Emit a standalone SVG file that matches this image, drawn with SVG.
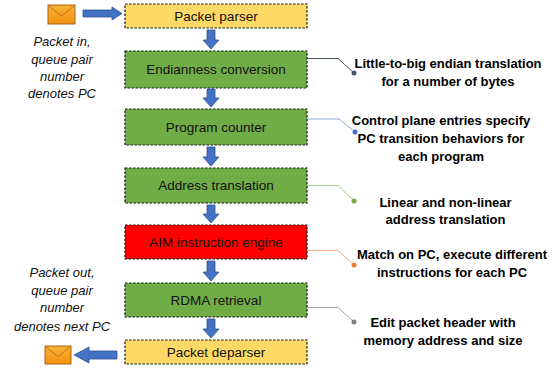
<svg xmlns="http://www.w3.org/2000/svg" width="556" height="370" viewBox="0 0 556 370">
<defs>
<style>
.box{stroke:#1a1a1a;stroke-width:1.2;stroke-dasharray:2.5 1.5}
.y{fill:#FFD966}
.g{fill:#70AD47}
.r{fill:#FF0000}
.bt{font-family:"Liberation Sans",Arial,sans-serif;font-size:13.5px;fill:#111;text-anchor:middle}
.it{font-family:"Liberation Sans",Arial,sans-serif;font-size:13px;font-style:italic;fill:#111;text-anchor:middle}
.rt{font-family:"Liberation Sans",Arial,sans-serif;font-size:13px;font-weight:bold;fill:#000;text-anchor:middle}
.arr{fill:#4472C4;stroke:#2F528F;stroke-width:0.8}
.env{fill:#F5A21E;stroke:#A8651C;stroke-width:1}
.flap{fill:none;stroke:#C0701A;stroke-width:1}
.ld{fill:none;stroke-width:1}
</style>
<linearGradient id="eg" x1="0" y1="0" x2="0" y2="1">
<stop offset="0" stop-color="#F9B233"/>
<stop offset="1" stop-color="#F29111"/>
</linearGradient>
</defs>

<g id="envelope-in">
<rect x="48" y="5" width="27" height="19" fill="url(#eg)" stroke="#A8651C" stroke-width="1"/>
<path class="flap" d="M48.5,5.5 L61.5,16 L74.5,5.5"/>
</g>
<g id="envelope-out">
<rect x="45" y="346" width="26" height="18" fill="url(#eg)" stroke="#A8651C" stroke-width="1"/>
<path class="flap" d="M45.5,346.5 L58,356.5 L70.5,346.5"/>
</g>

<g id="connectors">
<path class="arr" d="M83,10 H112 V7 L122,13.5 L112,20 V17 H83 Z"/>
<path class="arr" d="M117,351 H89 V347 L74,355 L89,363 V359 H117 Z"/>
<path class="arr" d="M207,30 h8 v10 h4 l-8,9 l-8,-9 h4 z"/>
<path class="arr" d="M207,89 h8 v9 h4 l-8,9 l-8,-9 h4 z"/>
<path class="arr" d="M207,147 h8 v10 h4 l-8,9 l-8,-9 h4 z"/>
<path class="arr" d="M207,205 h8 v9 h4 l-8,9 l-8,-9 h4 z"/>
<path class="arr" d="M207,261 h8 v11 h4 l-8,9 l-8,-9 h4 z"/>
<path class="arr" d="M207,319 h8 v10 h4 l-8,9 l-8,-9 h4 z"/>

<path class="ld" stroke="#44546A" d="M307,58.5 H338 L354,73"/>
<circle cx="354" cy="73" r="2.5" fill="#44546A"/>
<path class="ld" stroke="#8FAADC" d="M307,119 H339 L355,132"/>
<circle cx="355" cy="132" r="2.5" fill="#4472C4"/>
<path class="ld" stroke="#A9D18E" d="M307,185.5 H338 L354,201"/>
<circle cx="354" cy="201" r="2.5" fill="#70AD47"/>
<path class="ld" stroke="#F4B183" d="M307,250.5 H338 L354,265"/>
<circle cx="354" cy="265" r="2.5" fill="#ED7D31"/>
<path class="ld" stroke="#A5A5A5" d="M307,307.5 H338 L354,322"/>
<circle cx="354" cy="322" r="2.5" fill="#7F7F7F"/>
</g>

<g id="packet-parser">
<rect class="box y" x="125" y="4" width="182" height="24"/>
<text class="bt" x="216" y="20.5">Packet parser</text>
</g>
<g id="endianness-conversion">
<rect class="box g" x="125" y="51" width="182" height="37"/>
<text class="bt" x="216" y="74">Endianness conversion</text>
</g>
<g id="program-counter">
<rect class="box g" x="125" y="109" width="182" height="36"/>
<text class="bt" x="216" y="131.5">Program counter</text>
</g>
<g id="address-translation">
<rect class="box g" x="125" y="168" width="182" height="35"/>
<text class="bt" x="216" y="190">Address translation</text>
</g>
<g id="aim-instruction-engine">
<rect class="box r" x="125" y="225" width="182" height="34"/>
<text class="bt" x="216" y="246.5">AIM instruction engine</text>
</g>
<g id="rdma-retrieval">
<rect class="box g" x="125" y="283" width="182" height="34"/>
<text class="bt" x="216" y="304.5">RDMA retrieval</text>
</g>
<g id="packet-deparser">
<rect class="box y" x="125" y="340" width="182" height="24"/>
<text class="bt" x="216" y="356.5">Packet deparser</text>
</g>

<g id="label-in">
<text class="it" x="62" y="45.5">Packet in,</text>
<text class="it" x="62" y="63.5">queue pair</text>
<text class="it" x="62" y="80.5">number</text>
<text class="it" x="62" y="97.5">denotes PC</text>
</g>
<g id="label-out">
<text class="it" x="62" y="276.5">Packet out,</text>
<text class="it" x="62" y="294.5">queue pair</text>
<text class="it" x="62" y="312">number</text>
<text class="it" x="62" y="330.5">denotes next PC</text>
</g>

<g id="note-endianness">
<text class="rt" x="448" y="67.5">Little-to-big endian translation</text>
<text class="rt" x="448" y="85.5">for a number of bytes</text>
</g>
<g id="note-pc">
<text class="rt" x="441" y="124.5">Control plane entries specify</text>
<text class="rt" x="441" y="142.5">PC transition behaviors for</text>
<text class="rt" x="441" y="160.5">each program</text>
</g>
<g id="note-address">
<text class="rt" x="445.5" y="206.5">Linear and non-linear</text>
<text class="rt" x="445.5" y="224">address translation</text>
</g>
<g id="note-aim">
<text class="rt" x="452" y="258.5">Match on PC, execute different</text>
<text class="rt" x="452" y="277">instructions for each PC</text>
</g>
<g id="note-rdma">
<text class="rt" x="443" y="326.5">Edit packet header with</text>
<text class="rt" x="443" y="345">memory address and size</text>
</g>
</svg>
